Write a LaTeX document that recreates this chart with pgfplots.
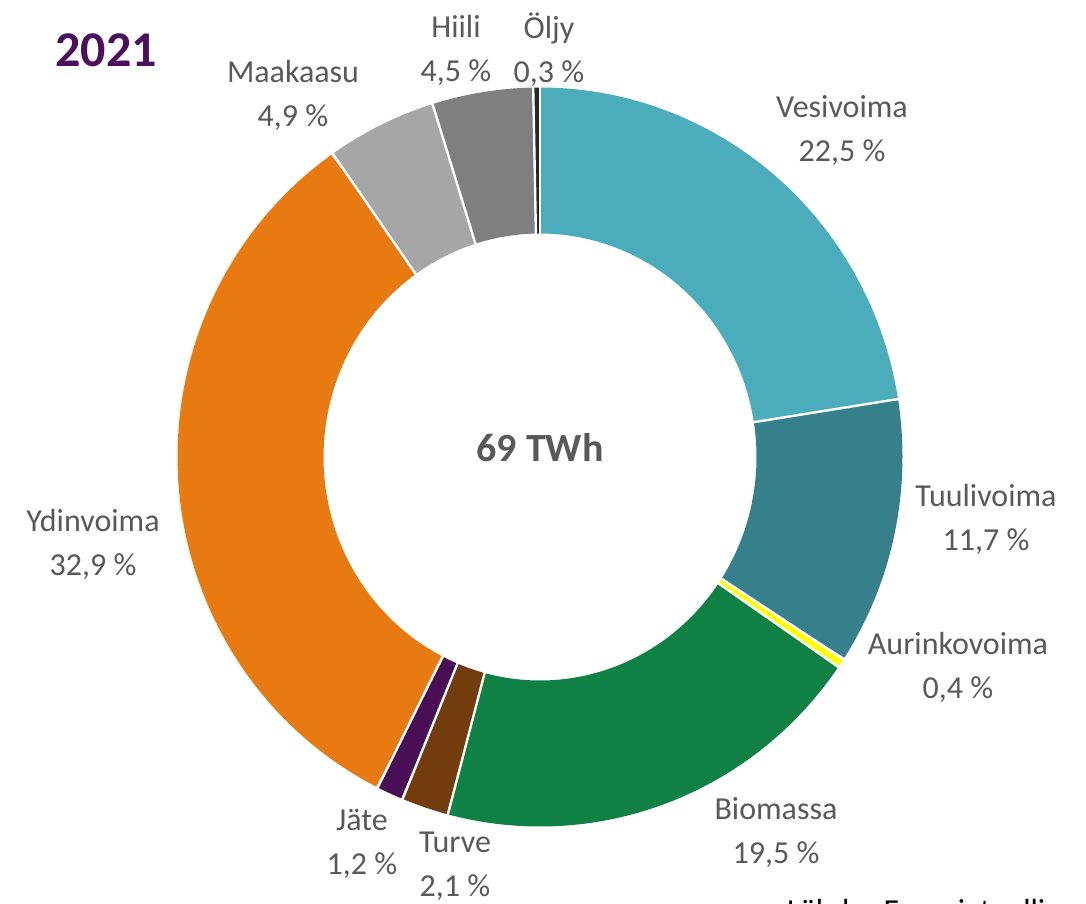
\documentclass[border=0pt]{standalone}
\usepackage{pgfplots}
\pgfplotsset{compat=1.18}
\usepackage{pgfplotstable}
\usepackage{fontspec}
\setmainfont{Carlito}

\definecolor{cVesi}{HTML}{4BACBB}
\definecolor{cTuuli}{HTML}{36808C}
\definecolor{cAurinko}{HTML}{FFFF00}
\definecolor{cBio}{HTML}{0F8144}
\definecolor{cTurve}{HTML}{733C0C}
\definecolor{cJate}{HTML}{4A0E57}
\definecolor{cYdin}{HTML}{E97A12}
\definecolor{cMaa}{HTML}{A6A6A6}
\definecolor{cHiili}{HTML}{7F7F7F}
\definecolor{cOljy}{HTML}{262626}
\definecolor{lbl}{HTML}{595959}
\definecolor{yearcol}{HTML}{4B0F5C}

\tikzset{lab/.style={text=lbl, align=center, font=\fontsize{16}{22}\selectfont}}

% share of electricity production 2021, %, clockwise from the top
\pgfplotstableread{
value col
22.5 cVesi
11.7 cTuuli
0.4  cAurinko
19.5 cBio
2.1  cTurve
1.2  cJate
32.9 cYdin
4.9  cMaa
4.5  cHiili
0.3  cOljy
}\mixtable

\begin{document}
\begin{tikzpicture}
\useasboundingbox (0,0) rectangle (543pt,452pt);
\begin{axis}[
    at={(0,0)}, anchor=south west,
    scale only axis, width=543pt, height=452pt,
    xmin=0, xmax=1086, ymin=-904, ymax=0,
    hide axis, clip=false
]
\def\cx{540}\def\cy{-457}
% slices: thick arcs along the middle of the ring
\gdef\acc{0}
\pgfplotsinvokeforeach{0,...,9}{%
  \pgfplotstablegetelem{#1}{value}\of\mixtable \let\sliceval=\pgfplotsretval
  \pgfplotstablegetelem{#1}{col}\of\mixtable \let\slicecol=\pgfplotsretval
  \pgfmathsetmacro\ta{90-3.6*\acc}
  \pgfmathparse{\acc+\sliceval}\xdef\acc{\pgfmathresult}
  \pgfmathsetmacro\tb{90-3.6*\acc}
  \pgfmathtruncatemacro\ns{3.6*\sliceval+2}
  \edef\temp{\noexpand\addplot[draw=\slicecol, line width=73pt, domain=\tb:\ta, samples=\ns, no marks]
    ({\cx+289.5*cos(x)},{\cy+296.5*sin(x)});}
  \temp
}
% white borders between slices
\gdef\acc{0}
\pgfplotsinvokeforeach{0,...,9}{%
  \pgfplotstablegetelem{#1}{value}\of\mixtable \let\sliceval=\pgfplotsretval
  \pgfmathsetmacro\ta{90-3.6*\acc}
  \pgfmathsetmacro\xa{\cx+214*cos(\ta)}\pgfmathsetmacro\ya{\cy+220*sin(\ta)}
  \pgfmathsetmacro\xb{\cx+366*cos(\ta)}\pgfmathsetmacro\yb{\cy+374*sin(\ta)}
  \edef\temp{\noexpand\addplot[white, line width=1.2pt, no marks] coordinates {(\xa,\ya) (\xb,\yb)};}
  \temp
  \pgfmathparse{\acc+\sliceval}\xdef\acc{\pgfmathresult}
}

\node[lab] at (axis cs:842,-131) {Vesivoima\\22,5 \%};
\node[lab] at (axis cs:986,-519) {Tuulivoima\\11,7 \%};
\node[lab] at (axis cs:958,-667) {Aurinkovoima\\0,4 \%};
\node[lab] at (axis cs:776,-833) {Biomassa\\19,5 \%};
\node[lab] at (axis cs:455,-866) {Turve\\2,1 \%};
\node[lab] at (axis cs:362,-844) {Jäte\\1,2 \%};
\node[lab] at (axis cs:93,-544) {Ydinvoima\\32,9 \%};
\node[lab] at (axis cs:293,-95) {Maakaasu\\4,9 \%};
\node[lab] at (axis cs:456,-50) {Hiili\\4,5 \%};
\node[lab] at (axis cs:549,-50) {Öljy\\0,3 \%};

\node[lab, text=yearcol, font=\fontsize{25}{30}\selectfont\bfseries] at (axis cs:106,-50) {2021};
\node[lab, font=\fontsize{20}{24}\selectfont\bfseries] at (axis cs:540,-448) {69 TWh};
\node[lab, text=black, anchor=base west] at (axis cs:780,-921) {Lähde: Energiateollisuus};
\end{axis}
\end{tikzpicture}
\end{document}
